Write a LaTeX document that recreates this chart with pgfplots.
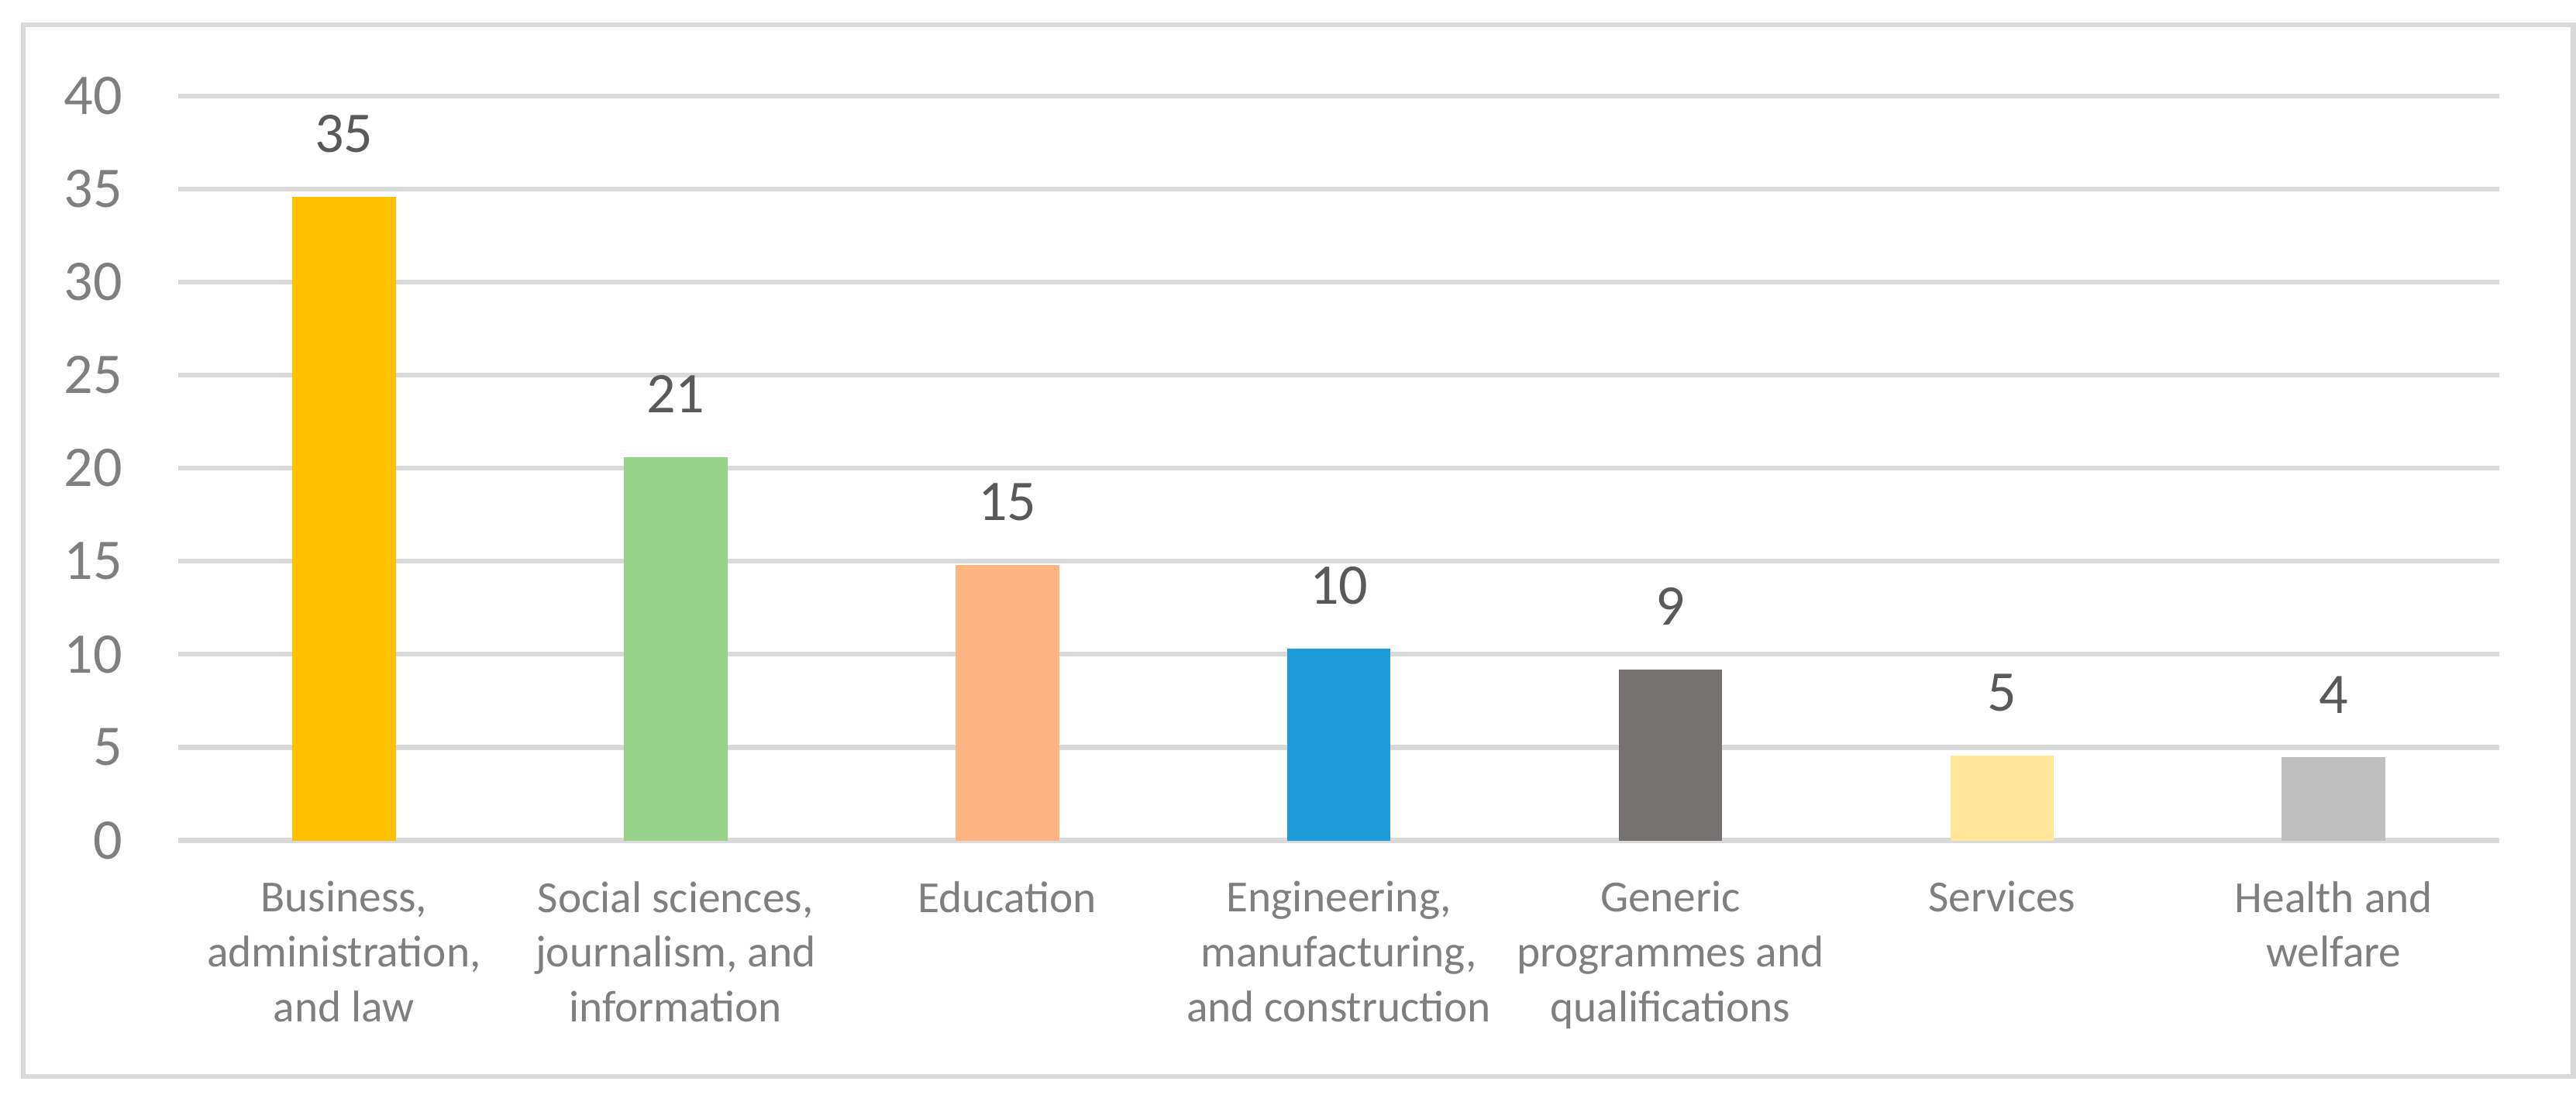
\documentclass[border=0pt]{standalone}
\usepackage{pgfplots}
\pgfplotsset{compat=1.18}
\usepackage{fontspec}
\setmainfont{Carlito}
\definecolor{gridgray}{HTML}{D9D9D9}
\definecolor{axgray}{HTML}{7F7F7F}
\definecolor{lblgray}{HTML}{595959}
\definecolor{cbus}{HTML}{FFC000}
\definecolor{csoc}{HTML}{97D28B}
\definecolor{cedu}{HTML}{FFB482}
\definecolor{ceng}{HTML}{1E9CD9}
\definecolor{cgen}{HTML}{767171}
\definecolor{cser}{HTML}{FFE699}
\definecolor{chea}{HTML}{BFBFBF}
\begin{document}
\begin{tikzpicture}
\begin{axis}[
    scale only axis, width=428.1pt, height=137.3pt,
    ymin=0, ymax=40, ytick={0,5,...,40},
    xmin=-0.5, xmax=6.5, xtick={0,...,6},
    xticklabels={{Business,\\administration,\\and law},
                 {Social sciences,\\journalism, and\\information},
                 {Education},
                 {Engineering,\\manufacturing,\\and construction},
                 {Generic\\programmes and\\qualifications},
                 {Services},
                 {Health and\\welfare}},
    axis line style={draw=none}, major tick length=0pt,
    ymajorgrids, grid style={gridgray, line width=0.9pt},
    ybar, bar width=19.1pt,
    /pgf/number format/assume math mode=true,
    yticklabel style={font=\fontsize{10.6}{12.7}\selectfont, text=axgray, xshift=-6.8pt},
    xticklabel style={font=\fontsize{8.2}{10.1}\selectfont, text=axgray, align=center, yshift=-4pt},
    nodes near coords={\pgfmathprintnumber[fixed,precision=0]{\pgfplotspointmeta}},
    nodes near coords style={font=\fontsize{10.6}{12.7}\selectfont, text=lblgray, anchor=center, yshift=11.6pt},
]
\addplot[fill=cbus, draw=none, bar shift=0pt] coordinates {(0,34.6)};
\addplot[fill=csoc, draw=none, bar shift=0pt] coordinates {(1,20.6)};
\addplot[fill=cedu, draw=none, bar shift=0pt] coordinates {(2,14.8)};
\addplot[fill=ceng, draw=none, bar shift=0pt] coordinates {(3,10.3)};
\addplot[fill=cgen, draw=none, bar shift=0pt] coordinates {(4,9.2)};
\addplot[fill=cser, draw=none, bar shift=0pt] coordinates {(5,4.54)};
\addplot[fill=chea, draw=none, bar shift=0pt] coordinates {(6,4.46)};
\end{axis}
\path (-32.86pt,-48.14pt) rectangle (442.2pt,155pt);
\draw[gridgray, line width=0.86pt] (-28.57pt,-43.57pt) rectangle (441.7pt,150.4pt);
\end{tikzpicture}
\end{document}
